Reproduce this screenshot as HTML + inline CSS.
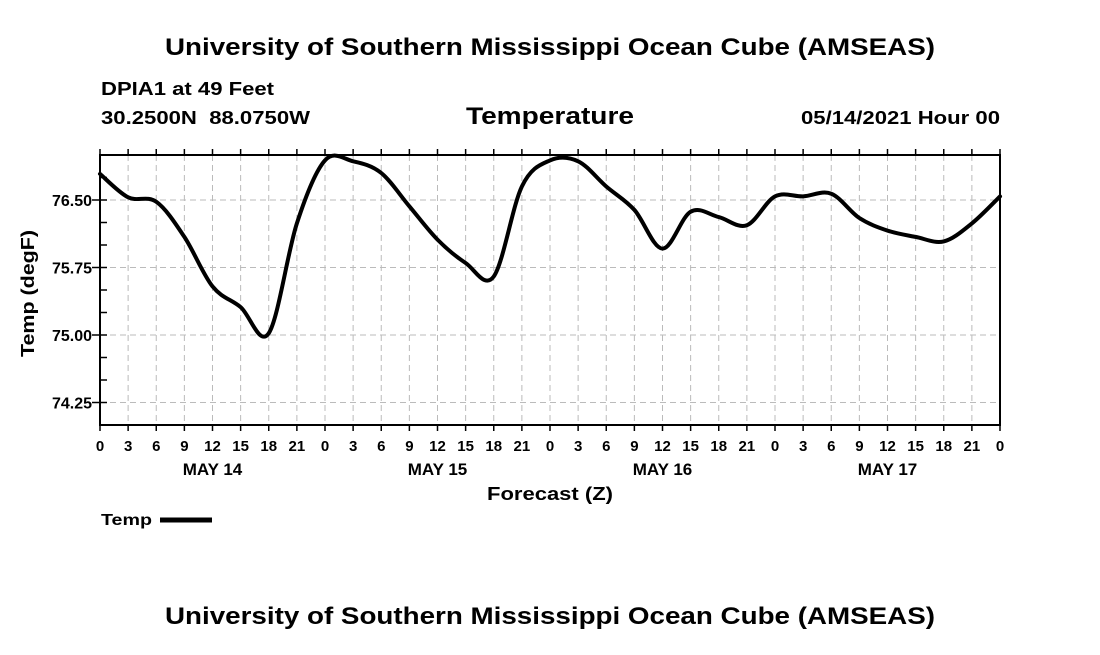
<!DOCTYPE html>
<html><head><meta charset="utf-8"><style>
body{margin:0;background:#fff;}
svg text{font-family:"Liberation Sans",sans-serif;font-weight:bold;fill:#000;}
</style></head><body>
<svg id="chart" width="1100" height="650" xmlns="http://www.w3.org/2000/svg">
<text x="165" y="55" font-size="24" textLength="770" lengthAdjust="spacingAndGlyphs">University of Southern Mississippi Ocean Cube (AMSEAS)</text>
<text x="101" y="95" font-size="18" textLength="173" lengthAdjust="spacingAndGlyphs">DPIA1 at 49 Feet</text>
<text x="101" y="124" font-size="18" textLength="209" lengthAdjust="spacingAndGlyphs" xml:space="preserve">30.2500N  88.0750W</text>
<text x="466" y="124" font-size="24" textLength="168" lengthAdjust="spacingAndGlyphs">Temperature</text>
<text x="801" y="124" font-size="18" textLength="199" lengthAdjust="spacingAndGlyphs">05/14/2021 Hour 00</text>
<g id="grid"></g>
<g id="axes"></g>
<path id="series" fill="none" stroke="#000" stroke-width="4" stroke-linejoin="round" stroke-linecap="round"/>
<rect x="100" y="155" width="900" height="270" fill="none" stroke="#000" stroke-width="2"/>
<text transform="translate(34,357) rotate(-90)" font-size="18" textLength="127" lengthAdjust="spacingAndGlyphs">Temp (degF)</text>
<text x="487" y="500" font-size="18" textLength="126" lengthAdjust="spacingAndGlyphs">Forecast (Z)</text>
<text x="101" y="525" font-size="16" textLength="51" lengthAdjust="spacingAndGlyphs">Temp</text>
<line x1="160" y1="520" x2="212" y2="520" stroke="#000" stroke-width="5"/>
<text x="165" y="624" font-size="24" textLength="770" lengthAdjust="spacingAndGlyphs">University of Southern Mississippi Ocean Cube (AMSEAS)</text>
</svg>
<script>
const hours=[0,3,6,9,12,15,18,21,24,27,30,33,36,39,42,45,48,51,54,57,60,63,66,69,72,75,78,81,84,87,90,93,96];
const temps=[76.79,76.53,76.48,76.09,75.54,75.31,75.02,76.24,76.94,76.93,76.80,76.43,76.06,75.80,75.65,76.65,76.94,76.93,76.65,76.39,75.96,76.37,76.31,76.22,76.54,76.54,76.57,76.30,76.16,76.09,76.04,76.24,76.54];
const yTicks=[74.25,75.00,75.75,76.50];
const dayLabels=["MAY 14","MAY 15","MAY 16","MAY 17"];
const X0=100,X1=1000,Y0=425,Y1=155,HMAX=96,VMIN=74.0,VMAX=77.0;
function xs(h){return X0+(h/HMAX)*(X1-X0);}
function ys(v){return Y0-(v-VMIN)/(VMAX-VMIN)*(Y0-Y1);}
const NS="http://www.w3.org/2000/svg";
const grid=document.getElementById('grid'),axes=document.getElementById('axes');
function mk(tag,attrs,parent){const e=document.createElementNS(NS,tag);for(const k in attrs)e.setAttribute(k,attrs[k]);parent.appendChild(e);return e;}
for(let h=0;h<=HMAX;h+=3){
  const x=xs(h);
  if(h>0&&h<HMAX){const g=mk('line',{x1:x,y1:Y1,x2:x,y2:Y0,stroke:'#bbb','stroke-dasharray':'6,4'},grid);
  
  }
  const t=mk('line',{x1:x,y1:Y0,x2:x,y2:Y0+6,stroke:'#000','stroke-width':1.5},axes);
  
  
  const tt=mk('line',{x1:x,y1:Y1,x2:x,y2:Y1-6,stroke:'#000','stroke-width':1.5},axes);
  
  
  const l=mk('text',{x:x,y:Y0+26,'font-size':15,'text-anchor':'middle'},axes);
  l.textContent=String(h%24);
  
  
}
dayLabels.forEach((d,i)=>{const l=mk('text',{x:xs(12+24*i),y:Y0+50,'font-size':17,'text-anchor':'middle'},axes);
  l.textContent=d;
  
  });
for(let v=74.0;v<=77.0001;v+=0.25){const y=ys(v);
  const m=mk('line',{x1:X0,y1:y,x2:X0+7,y2:y,stroke:'#000','stroke-width':1.5},axes);
  
  }
yTicks.forEach(v=>{const y=ys(v);
  const g=mk('line',{x1:X0,y1:y,x2:X1,y2:y,stroke:'#bbb','stroke-dasharray':'6,4'},grid);
  
  
  const t=mk('line',{x1:X0-8,y1:y,x2:X0,y2:y,stroke:'#000','stroke-width':1.5},axes);
  
  
  const l=mk('text',{x:X0-8,y:y+6,'font-size':16,'text-anchor':'end'},axes);
  l.textContent=v.toFixed(2);
  
  });
const P=hours.map((h,i)=>[xs(h),ys(temps[i])]);
let d='M'+P[0][0]+','+P[0][1];
for(let i=0;i<P.length-1;i++){const p0=P[Math.max(0,i-1)],p1=P[i],p2=P[i+1],p3=P[Math.min(P.length-1,i+2)];
  const c1=[p1[0]+(p2[0]-p0[0])/6,p1[1]+(p2[1]-p0[1])/6],c2=[p2[0]-(p3[0]-p1[0])/6,p2[1]-(p3[1]-p1[1])/6];
  d+=` C${c1[0]},${c1[1]} ${c2[0]},${c2[1]} ${p2[0]},${p2[1]}`;}
document.getElementById('series').setAttribute('d',d);
</script>
</body></html>
